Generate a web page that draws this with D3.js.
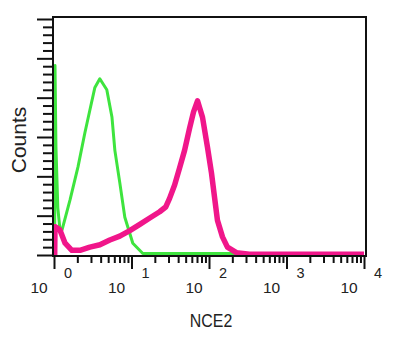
<!DOCTYPE html>
<html>
<head>
<meta charset="utf-8">
<script src="https://cdn.jsdelivr.net/npm/d3@7"></script>
<style>
  html, body { margin: 0; padding: 0; background: #fff; }
  svg { display: block; }
</style>
</head>
<body>
<div id="chart"></div>
<script>
// decade ticks on the log axis, exponent shown as superscript
const decades = [1, 10, 100, 1000, 10000];
const exponents = ['0', '1', '2', '3', '4'];
const countTicks = [0, 50, 100, 150, 200, 250, 300];

// green histogram (control)
const greenX = [1.02, 1.03, 1.06, 1.12, 1.2, 1.27, 1.61, 2.04, 2.5, 2.9, 3.37, 3.9, 4.8, 5.6, 6.1, 7.06, 8.2, 10.4, 14, 10000];
const greenY = [0, 241, 137, 60, 30, 32, 70, 112, 155, 184, 213, 224, 210, 175, 133, 92, 48, 15, 2, 2];

// magenta histogram (NCE2)
const magentaX = [1.02, 1.03, 1.19, 1.39, 1.70, 2.16, 2.90, 3.91, 5.25, 7.06, 9.5, 12.8, 17.2, 23.1, 27.6, 31.0, 36.0, 41.8, 48.4, 56.1, 63.2, 71.1, 82.5, 95.6, 107.7, 117.7, 128.6, 149.2, 172.9, 225.8, 331.9, 10000];
const magentaY = [0, 36, 32, 15, 6, 6, 10, 13, 19, 24, 31, 39, 47, 55, 61, 72, 89, 111, 133, 161, 182, 196, 175, 137, 104, 74, 44, 23, 10, 3, 1, 1];

const width = 395;
const height = 340;
const box = { left: 53, right: 366, top: 17, bottom: 256 };

const svg = d3.select('#chart').append('svg')
  .attr('width', width)
  .attr('height', height);

const x = d3.scaleLog().domain([1, 10000]).range([54, 364]);
const y = d3.scaleLinear().domain([0, 300]).range([255, 19]);

// minor ticks 2..9 inside each decade
const minorX = [];
decades.slice(0, -1).forEach(d => {
  for (let k = 2; k <= 9; k++) minorX.push(d * k);
});
const minorY = d3.range(0, 301, 10).filter(v => v % 50 !== 0);

const styleTicks = g => {
  g.select('.domain').remove();
  g.selectAll('line').attr('stroke', '#111').attr('stroke-width', 2);
};

// y axis ticks
svg.append('g')
  .attr('transform', `translate(${box.left},0)`)
  .call(d3.axisLeft(y).tickValues(minorY).tickSize(10).tickFormat(''))
  .call(styleTicks);

svg.append('g')
  .attr('transform', `translate(${box.left},0)`)
  .call(d3.axisLeft(y).tickValues(countTicks).tickSize(16).tickFormat(''))
  .call(styleTicks);

// x axis ticks
svg.append('g')
  .attr('transform', `translate(0,${box.bottom})`)
  .call(d3.axisBottom(x).tickValues(minorX).tickSize(7).tickFormat(''))
  .call(styleTicks);

svg.append('g')
  .attr('transform', `translate(0,${box.bottom})`)
  .call(d3.axisBottom(x).tickValues(decades).tickSize(13).tickFormat(''))
  .call(styleTicks);

// decade labels: "10" left of tick, exponent raised right of tick
const labels = svg.append('g')
  .attr('font-family', 'Liberation Sans, Arial, sans-serif')
  .attr('fill', '#222')
  .selectAll('g')
  .data(decades)
  .join('g');

labels.append('text')
  .attr('x', d => x(d) - 15)
  .attr('y', 293)
  .attr('text-anchor', 'middle')
  .attr('font-size', 15.5)
  .text('10');

labels.append('text')
  .attr('x', d => x(d) + 14)
  .attr('y', 278)
  .attr('text-anchor', 'middle')
  .attr('font-size', 14.5)
  .text((d, i) => exponents[i]);

// histograms
const line = (xs, ys) => d3.line()
  .x(i => x(xs[i]))
  .y(i => y(ys[i]))(d3.range(xs.length));

svg.append('path')
  .attr('d', line(greenX, greenY))
  .attr('fill', 'none')
  .attr('stroke', '#3ee43e')
  .attr('stroke-width', 3)
  .attr('stroke-linejoin', 'round');

svg.append('path')
  .attr('d', line(magentaX, magentaY))
  .attr('fill', 'none')
  .attr('stroke', '#f0168a')
  .attr('stroke-width', 5.5)
  .attr('stroke-linejoin', 'round');

// frame
svg.append('rect')
  .attr('x', box.left)
  .attr('y', box.top)
  .attr('width', box.right - box.left)
  .attr('height', box.bottom - box.top)
  .attr('fill', 'none')
  .attr('stroke', '#111')
  .attr('stroke-width', 2);

// axis titles
svg.append('text')
  .attr('transform', 'translate(26,140) rotate(-90)')
  .attr('text-anchor', 'middle')
  .attr('font-family', 'Liberation Sans, Arial, sans-serif')
  .attr('font-size', 21)
  .attr('fill', '#222')
  .text('Counts');

svg.append('text')
  .attr('transform', 'translate(211,327) scale(0.86,1)')
  .attr('text-anchor', 'middle')
  .attr('font-family', 'Liberation Sans, Arial, sans-serif')
  .attr('font-size', 18.5)
  .attr('fill', '#222')
  .text('NCE2');
</script>
</body>
</html>
